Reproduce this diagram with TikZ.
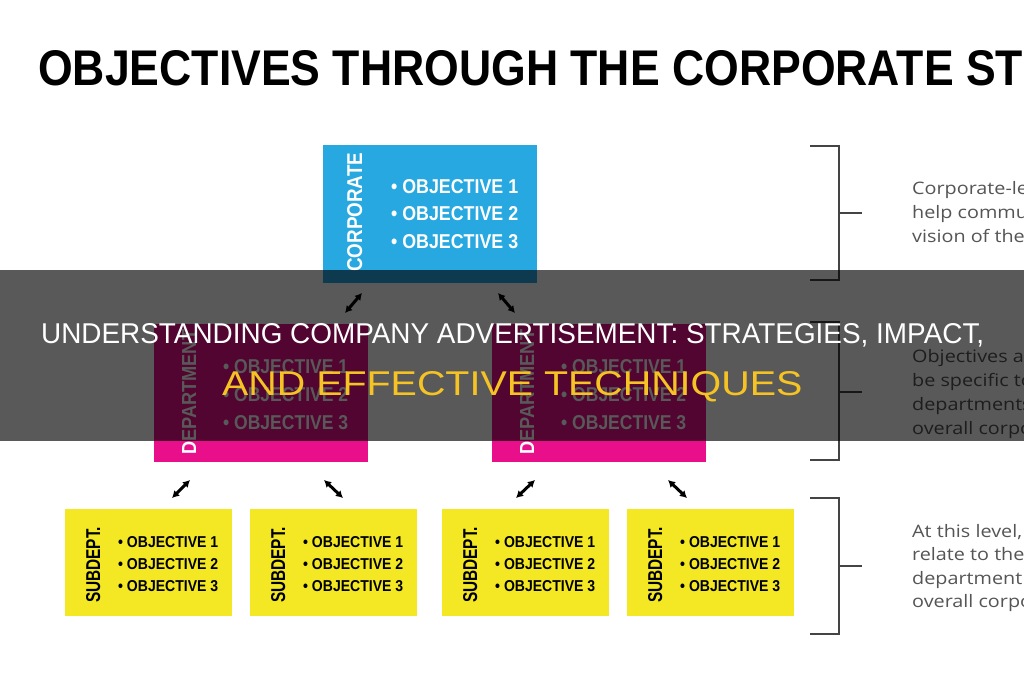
\documentclass[tikz,border=0pt]{standalone}
\usepackage{fontspec}
\usepackage{graphicx}
\usetikzlibrary{arrows.meta}
\newfontfamily\lsans{Liberation Sans}
\newfontfamily\osans{Open Sans}
\definecolor{corpblue}{HTML}{27A8E0}
\definecolor{deptpink}{HTML}{E90F8B}
\definecolor{subyellow}{HTML}{F3E823}
\definecolor{bannergold}{HTML}{F6C324}
\definecolor{notegray}{HTML}{555555}
\definecolor{bracketgray}{HTML}{444444}
\newcommand{\fitT}[3]{\resizebox{#1pt}{#2pt}{#3}}
\newcommand{\wideT}[1]{\scalebox{1.15}[1]{#1}}
\begin{document}
\begin{tikzpicture}[x=1pt,y=-1pt,
  bigbox/.style={minimum width=214pt,minimum height=138pt,inner sep=0pt,draw=none},
  smallbox/.style={minimum width=167pt,minimum height=107pt,inner sep=0pt,draw=none},
  objtxt/.style={inner sep=0pt,anchor=base west},
  vtxt/.style={inner sep=0pt,anchor=base west,rotate=90},
  dblarrow/.style={{Latex[length=7pt,width=8pt]}-{Latex[length=7pt,width=8pt]},line width=3pt,black},
  brk/.style={line width=2pt,bracketgray},
  notetext/.style={inner sep=0pt,anchor=base west,text=notegray,font=\osans\fontsize{17.2}{17.2}\selectfont},
]
\useasboundingbox (0,0) rectangle (1024,680);
\begin{scope}
\clip (0,0) rectangle (1024,680);
\fill[white] (0,0) rectangle (1024,680);
% title
\node[objtxt] (title) at (38,85) {\fitT{985}{35}{\lsans\bfseries OBJECTIVES THROUGH THE CORPORATE ST}};

% corporate box
\node[bigbox,fill=corpblue] (corp) at (430,214) {};
\node[vtxt,text=white] (corplbl) at (362,272) {\fitT{119}{15}{\lsans\bfseries CORPORATE}};
\node[objtxt,text=white] (c1) at (391,193) {\fitT{127}{14}{\lsans\bfseries • OBJECTIVE 1}};
\node[objtxt,text=white] (c2) at (391,220.5) {\fitT{127}{14}{\lsans\bfseries • OBJECTIVE 2}};
\node[objtxt,text=white] (c3) at (391,248) {\fitT{127}{14}{\lsans\bfseries • OBJECTIVE 3}};

% department boxes
\node[bigbox,fill=deptpink] (dept1) at (261,392.5) {};
\node[vtxt,text=white] (d1lbl) at (196,455) {\fitT{125}{14}{\lsans\bfseries DEPARTMENT}};
\node[objtxt,text=white] (d11) at (223,373) {\fitT{125}{14}{\lsans\bfseries • OBJECTIVE 1}};
\node[objtxt,text=white] (d12) at (223,401) {\fitT{125}{14}{\lsans\bfseries • OBJECTIVE 2}};
\node[objtxt,text=white] (d13) at (223,429) {\fitT{125}{14}{\lsans\bfseries • OBJECTIVE 3}};

\node[bigbox,fill=deptpink] (dept2) at (599,392.5) {};
\node[vtxt,text=white] (d2lbl) at (534,455) {\fitT{125}{14}{\lsans\bfseries DEPARTMENT}};
\node[objtxt,text=white] (d21) at (561,373) {\fitT{125}{14}{\lsans\bfseries • OBJECTIVE 1}};
\node[objtxt,text=white] (d22) at (561,401) {\fitT{125}{14}{\lsans\bfseries • OBJECTIVE 2}};
\node[objtxt,text=white] (d23) at (561,429) {\fitT{125}{14}{\lsans\bfseries • OBJECTIVE 3}};

% sub-department boxes
\foreach \n/\l in {1/65,2/250,3/442,4/627}{
  \node[smallbox,fill=subyellow] (sub\n) at (\l+83.5,562.5) {};
  \node[vtxt,text=black] (sub\n lbl) at (\l+35,603) {\fitT{76}{14}{\lsans\bfseries SUBDEPT.}};
  \node[objtxt,text=black] (sub\n a) at (\l+53,547) {\fitT{100}{11}{\lsans\bfseries • OBJECTIVE 1}};
  \node[objtxt,text=black] (sub\n b) at (\l+53,569) {\fitT{100}{11}{\lsans\bfseries • OBJECTIVE 2}};
  \node[objtxt,text=black] (sub\n c) at (\l+53,591) {\fitT{100}{11}{\lsans\bfseries • OBJECTIVE 3}};
}

% arrows
\coordinate (a1s) at (362,293); \coordinate (a1e) at (345,313);
\coordinate (a2s) at (498,293); \coordinate (a2e) at (515,313);
\coordinate (b1s) at (190,480); \coordinate (b1e) at (172,498);
\coordinate (b2s) at (324,480); \coordinate (b2e) at (343,498);
\coordinate (b3s) at (535,480); \coordinate (b3e) at (516,498);
\coordinate (b4s) at (668,480); \coordinate (b4e) at (687,498);
\draw[dblarrow] (a1s) -- (a1e);
\draw[dblarrow] (a2s) -- (a2e);
\draw[dblarrow] (b1s) -- (b1e);
\draw[dblarrow] (b2s) -- (b2e);
\draw[dblarrow] (b3s) -- (b3e);
\draw[dblarrow] (b4s) -- (b4e);

% brackets
\draw[brk] (810,146) -- (839,146) -- (839,280) -- (810,280);
\draw[brk] (839,213) -- (862,213);
\draw[brk] (810,322) -- (839,322) -- (839,460) -- (810,460);
\draw[brk] (839,392) -- (862,392);
\draw[brk] (810,498) -- (839,498) -- (839,634) -- (810,634);
\draw[brk] (839,566) -- (862,566);

% notes
\node[notetext] (n11) at (912,194) {\wideT{Corporate-level objectives}};
\node[notetext] (n12) at (912,218) {\wideT{help communicate the}};
\node[notetext] (n13) at (912,242) {\wideT{vision of the company}};
\node[notetext] (n21) at (912,362) {\wideT{Objectives are to}};
\node[notetext] (n22) at (912,386) {\wideT{be specific to the}};
\node[notetext] (n23) at (912,410) {\wideT{departments and}};
\node[notetext] (n24) at (912,434) {\wideT{overall corporate}};
\node[notetext] (n31) at (912,537) {\wideT{At this level, objectives}};
\node[notetext] (n32) at (912,560.5) {\wideT{relate to the}};
\node[notetext] (n33) at (912,584) {\wideT{department}};
\node[notetext] (n34) at (912,607) {\wideT{overall corporate}};

% banner overlay
\fill[black,opacity=0.65] (0,270) rectangle (1024,441);
\node[objtxt,text=white] (ban1) at (41,343) {\fitT{943}{20}{\lsans UNDERSTANDING COMPANY ADVERTISEMENT: STRATEGIES, IMPACT,}};
\node[objtxt,text=bannergold] (ban2) at (222,395) {\fitT{580}{24}{\lsans AND EFFECTIVE TECHNIQUES}};
\end{scope}
\end{tikzpicture}
\end{document}
